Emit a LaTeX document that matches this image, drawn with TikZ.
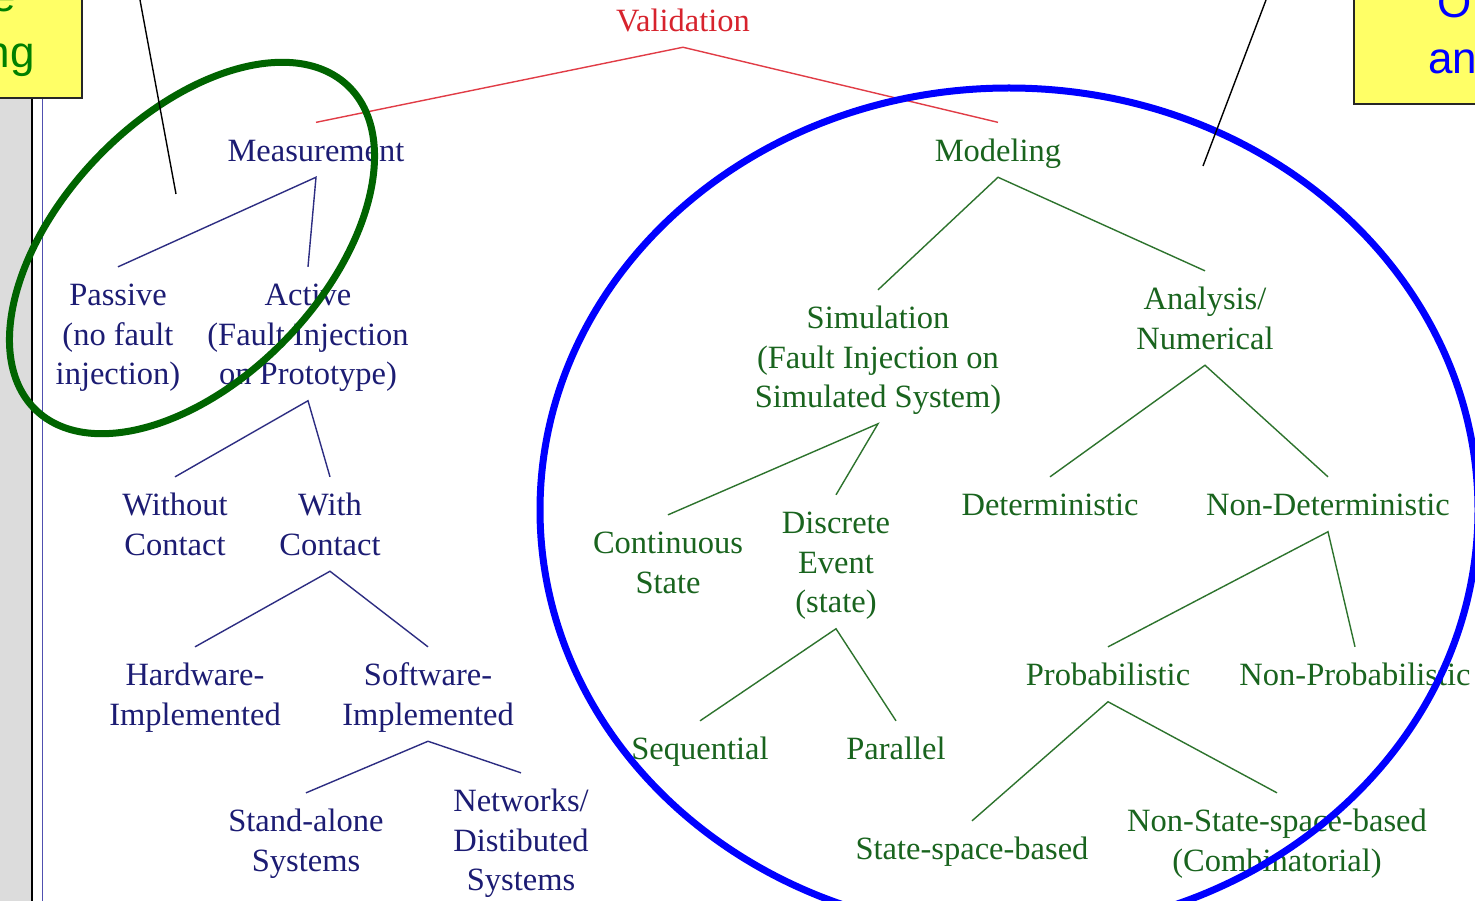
\documentclass[tikz,border=0pt]{standalone}
\usepackage{fontspec}
\setmainfont{Liberation Serif}
\newfontfamily\notefont{Liberation Sans}
\definecolor{navytext}{RGB}{28,28,115}
\definecolor{navyline}{RGB}{45,45,130}
\definecolor{greentext}{RGB}{25,100,30}
\definecolor{greenline}{RGB}{45,115,45}
\definecolor{redtext}{RGB}{215,35,45}
\definecolor{redline}{RGB}{225,60,70}
\definecolor{notefill}{RGB}{255,255,102}
\definecolor{ringgreen}{RGB}{0,100,0}
\definecolor{ringblue}{RGB}{0,0,255}
\definecolor{stripgrey}{RGB}{220,220,220}
\definecolor{stripblue}{RGB}{80,80,176}
\definecolor{notegreen}{RGB}{0,128,0}
\begin{document}
\begin{tikzpicture}[x=1pt,y=-1pt,
  lbl/.style={anchor=north, yshift=27.65pt, inner sep=0pt, align=center,
    font=\fontsize{32.5}{39.5}\selectfont,
    execute at begin node=\strut, execute at end node=\strut},
  mlbl/.style={lbl, text=navytext},
  glbl/.style={lbl, text=greentext},
  rlbl/.style={lbl, text=redtext},
  mline/.style={draw=navyline, line width=1.4pt},
  gline/.style={draw=greenline, line width=1.4pt},
  rline/.style={draw=redline, line width=1.4pt},
  ring/.style={line width=7pt},
  notebox/.style={draw=black!85, line width=1.6pt, fill=notefill, inner sep=0pt},
  notetext/.style={inner sep=0pt, font=\notefont\fontsize{44}{56}\selectfont},
  pointer/.style={draw=black, line width=1.4pt}]
\useasboundingbox (0,0) rectangle (1475,901);
\clip (0,0) rectangle (1475,901);
\fill[white] (0,0) rectangle (1475,901);

% left margin strip
\fill[stripgrey] (0,0) rectangle (32,901);
\draw[black, line width=1.5pt] (32,0) -- (32,901);
\draw[stripblue, line width=1pt] (42,0) -- (42,901);

% labels
\node[rlbl] (val) at (683,31) {Validation};
\node[mlbl] (meas) at (316,161) {Measurement};
\node[glbl] (model) at (998,161) {Modeling};

\node[mlbl] (passive) at (118,305.5) {\strut Passive\\(no fault\\injection)\strut};
\node[mlbl] (active) at (308,305.5) {\strut Active\\(Fault Injection\\on Prototype)\strut};
\node[mlbl] (without) at (175,515.5) {\strut Without\\Contact\strut};
\node[mlbl] (with) at (330,515.5) {\strut With\\Contact\strut};
\node[mlbl] (hw) at (195,685.5) {\strut Hardware-\\Implemented\strut};
\node[mlbl] (sw) at (428,685.5) {\strut Software-\\Implemented\strut};
\node[mlbl] (stand) at (306,831.5) {\strut Stand-alone\\Systems\strut};
\node[mlbl] (net) at (521,811.5) {\strut Networks/\\Distibuted\\Systems\strut};

\node[glbl] (sim) at (878,328.5) {\strut Simulation\\(Fault Injection on\\Simulated System)\strut};
\node[glbl] (ana) at (1205,309.5) {\strut Analysis/\\Numerical\strut};
\node[glbl] (cont) at (668,553.5) {\strut Continuous\\State\strut};
\node[glbl] (disc) at (836,533.5) {\strut Discrete\\Event\\(state)\strut};
\node[glbl] (seq) at (700,759.5) {Sequential};
\node[glbl] (par) at (896,759.5) {Parallel};
\node[glbl] (det) at (1050,515.5) {Deterministic};
\node[glbl] (nondet) at (1328,515.5) {Non-Deterministic};
\node[glbl] (prob) at (1108,685.5) {Probabilistic};
\node[glbl] (nonprob) at (1355,685.5) {Non-Probabilistic};
\node[glbl] (ss) at (972,859.5) {State-space-based};
\node[glbl] (nss) at (1277,831.5) {\strut Non-State-space-based\\(Combinatorial)\strut};

% connectors
\draw[rline] ([yshift=11pt]meas.north) -- ([yshift=-4pt]val.south) -- ([yshift=11pt]model.north);
\draw[mline] ([yshift=11pt]passive.north) -- ([yshift=-4pt]meas.south) -- ([yshift=11pt]active.north);
\draw[mline] ([yshift=11pt]without.north) -- ([yshift=-4pt]active.south) -- ([yshift=11pt]with.north);
\draw[mline] ([yshift=11pt]hw.north) -- ([yshift=-4pt]with.south) -- ([yshift=11pt]sw.north);
\draw[mline] ([yshift=11pt]stand.north) -- ([yshift=-4pt]sw.south) -- ([yshift=11pt]net.north);
\draw[gline] ([yshift=11pt]sim.north) -- ([yshift=-4pt]model.south) -- ([yshift=11pt]ana.north);
\draw[gline] ([yshift=11pt]cont.north) -- ([yshift=-4pt]sim.south) -- ([yshift=11pt]disc.north);
\draw[gline] ([yshift=11pt]seq.north) -- ([yshift=-4pt]disc.south) -- ([yshift=11pt]par.north);
\draw[gline] ([yshift=11pt]det.north) -- ([yshift=-4pt]ana.south) -- ([yshift=11pt]nondet.north);
\draw[gline] ([yshift=11pt]prob.north) -- ([yshift=-4pt]nondet.south) -- ([yshift=11pt]nonprob.north);
\draw[gline] ([yshift=11pt]ss.north) -- ([yshift=-4pt]prob.south) -- ([yshift=11pt]nss.north);

% rings
\draw[ring, ringgreen, rotate around={46:(192,248)}] (192,248) ellipse [x radius=225, y radius=131];
\draw[ring, ringblue] (1009,510) ellipse [x radius=469, y radius=422];

% pointer lines
\coordinate (ptrLtop) at (140,0);
\coordinate (ptrL) at (176,194);
\coordinate (ptrRtop) at (1266,0);
\coordinate (ptrR) at (1203,166);
\draw[pointer] (ptrLtop) -- (ptrL);
\draw[pointer] (ptrRtop) -- (ptrR);

% note boxes (cut by the picture edge)
\node[notebox, minimum width=140pt, minimum height=150pt, anchor=south east] (noteL) at (83,99) {};
\node[notetext, text=notegreen, anchor=base east] (noteLa) at (16,12) {e};
\node[notetext, text=notegreen, anchor=base east] (noteLb) at (35,68) {ng};
\node[notebox, minimum width=180pt, minimum height=150pt, anchor=south west] (noteR) at (1353,105) {};
\node[notetext, text=ringblue, anchor=base west] (noteRa) at (1437,18) {O};
\node[notetext, text=ringblue, anchor=base west] (noteRb) at (1428,74) {an};
\end{tikzpicture}
\end{document}
